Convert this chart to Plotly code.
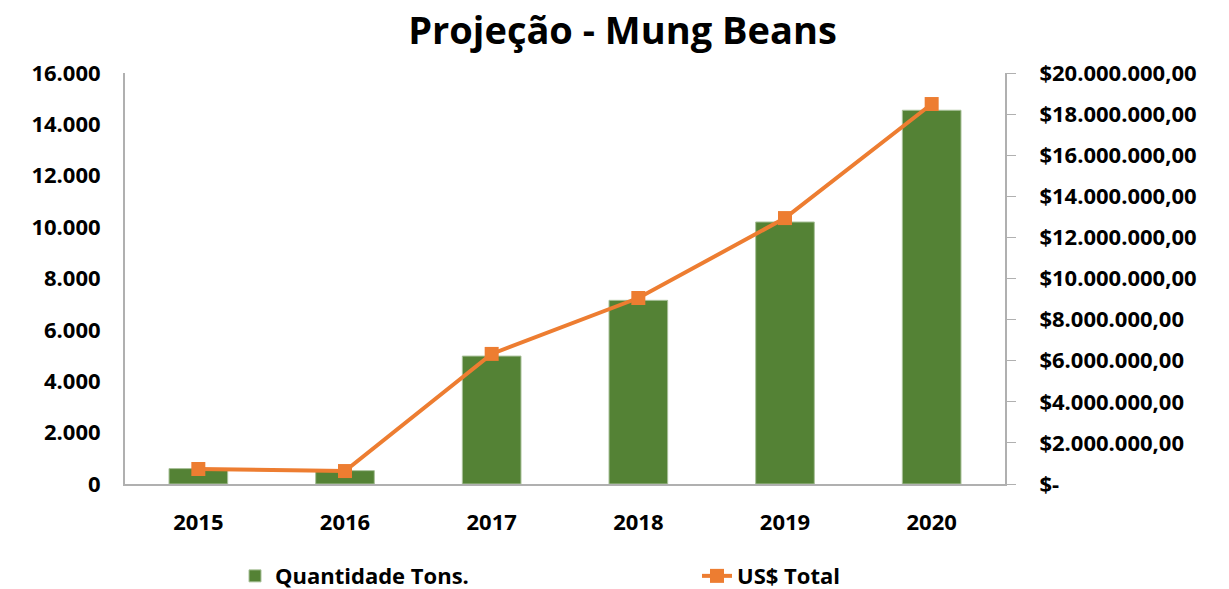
import plotly.graph_objects as go

years = ["2015", "2016", "2017", "2018", "2019", "2020"]
tons = [600, 520, 4980, 7150, 10200, 14550]
usd_total = [730000, 630000, 6330000, 9050000, 12940000, 18490000]

left_ticks = [0, 2000, 4000, 6000, 8000, 10000, 12000, 14000, 16000]
left_labels = ["0", "2.000", "4.000", "6.000", "8.000", "10.000", "12.000", "14.000", "16.000"]
right_ticks = [i * 2000000 for i in range(11)]
right_labels = ["$-"] + [f"${v // 1000000}.000.000,00" for v in right_ticks[1:]]

GREEN = "#548235"
ORANGE = "#ED7D31"
AXIS = "#B0B0B0"
FONT = "Open Sans"

fig = go.Figure()
fig.add_trace(go.Bar(
    x=years, y=tons, name="<b>Quantidade Tons.</b>",
    marker=dict(color=GREEN, line=dict(color="#A9C19A", width=1)),
    width=0.4, legend="legend",
))
fig.add_trace(go.Scatter(
    x=years, y=usd_total, name="<b>US$ Total</b>", yaxis="y2",
    mode="lines+markers",
    line=dict(color=ORANGE, width=4),
    marker=dict(symbol="square", size=14, color=ORANGE),
    legend="legend2",
))

fig.update_layout(
    width=1229, height=589,
    paper_bgcolor="white", plot_bgcolor="white",
    margin=dict(l=117, r=232, t=65, b=113, autoexpand=False),
    font=dict(family=FONT, size=22, color="black"),
    title=dict(text="<b>Projeção - Mung Beans</b>", x=0.5, xanchor="center",
               y=0.962, yanchor="middle", font=dict(size=38, family=FONT)),
    xaxis=dict(showline=True, linecolor=AXIS, linewidth=2, ticks="",
               tickvals=years, ticktext=[f"<b>{y}</b>" for y in years],
               showgrid=False, ticklabelstandoff=18),
    yaxis=dict(range=[0, 16000], tickvals=left_ticks,
               ticktext=[f"<b>{t}</b>" for t in left_labels],
               showline=True, linecolor=AXIS, linewidth=2, showgrid=False,
               zeroline=False, ticklabelstandoff=18),
    yaxis2=dict(range=[0, 20000000], tickvals=right_ticks,
                ticktext=[f"<b>{t}</b>" for t in right_labels],
                overlaying="y", side="right", showline=True, linecolor=AXIS,
                linewidth=2, ticks="outside", ticklen=9, tickcolor=AXIS,
                showgrid=False, zeroline=False, ticklabelstandoff=19),
    legend=dict(x=0.125, xanchor="left", y=-0.224, yanchor="middle",
                font=dict(size=22, family=FONT), bgcolor="rgba(0,0,0,0)"),
    legend2=dict(x=0.65, xanchor="left", y=-0.224, yanchor="middle",
                 font=dict(size=22, family=FONT), bgcolor="rgba(0,0,0,0)"),
    showlegend=True,
)

fig.write_html("out.html")
